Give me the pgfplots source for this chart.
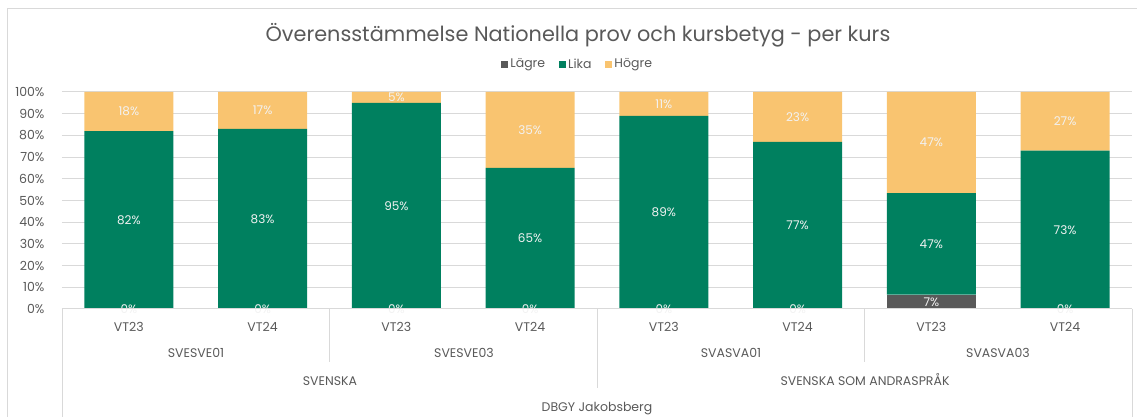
\documentclass[border=0pt]{standalone}
\usepackage{pgfplots}
\pgfplotsset{compat=1.18}
\usepackage{pgfplotstable}
\usepackage{fontspec}
\setmainfont{Poppins}
\definecolor{txt}{HTML}{595959}
\definecolor{lagre}{HTML}{595959}
\definecolor{lika}{HTML}{00805F}
\definecolor{hogre}{HTML}{F9C470}
\definecolor{gridc}{HTML}{D9D9D9}
\pgfplotstableread{
x lagre lika hogre
0 0 82 18
1 0 83 17
2 0 95 5
3 0 65 35
4 0 89 11
5 0 77 23
6 6.67 46.67 46.67
7 0 73 27
}\datatable
\begin{document}
\begin{tikzpicture}
\useasboundingbox (0pt,0pt) rectangle (1137pt,417pt);
\draw[gridc, line width=1pt] (7pt,0pt) -- (7pt,408pt) -- (1137pt,408pt);
\node[text=txt, font=\fontsize{20.8}{25}\selectfont] at (578pt,382pt) {Överensstämmelse Nationella prov och kursbetyg - per kurs};
\begin{axis}[
  at={(62pt,108pt)}, anchor=south west,
  scale only axis, width=1070pt, height=217pt,
  ybar stacked, bar width=89pt,
  xmin=-0.5, xmax=7.5, ymin=0, ymax=100,
  ytick={0,10,...,100},
  yticklabel={\pgfmathprintnumber[assume math mode=true]{\tick}\%},
  yticklabel style={font=\fontsize{12.5}{15}\selectfont, text=txt, xshift=-14pt},
  xtick={0,...,7}, xticklabels={VT23,VT24,VT23,VT24,VT23,VT24,VT23,VT24},
  xticklabel style={font=\fontsize{12.5}{15}\selectfont, text=txt, anchor=base, yshift=-23pt},
  major tick length=0pt,
  axis line style={draw=none},
  ymajorgrids, grid style={gridc, line width=1pt},
  legend style={at={(0.482,1.129)}, anchor=center, draw=none, fill=none, legend columns=3, font=\fontsize{12.5}{15}\selectfont, text=txt, /tikz/every even column/.append style={column sep=12pt}, inner sep=0pt},
  legend image code/.code={\fill[#1] (0pt,-3.5pt) rectangle (7pt,3.5pt);},
]
\addplot[fill=lagre, draw=none] table[x=x, y=lagre] {\datatable};
\addlegendentry{Lägre}
\addplot[fill=lika, draw=none] table[x=x, y=lika] {\datatable};
\addlegendentry{Lika}
\addplot[fill=hogre, draw=none] table[x=x, y=hogre] {\datatable};
\addlegendentry{Högre}
\end{axis}
\begin{axis}[
  at={(62pt,108pt)}, anchor=south west,
  scale only axis, width=1070pt, height=217pt,
  xmin=-0.5, xmax=7.5, ymin=0, ymax=100,
  hide axis, clip=false,
  nodes near coords, point meta=explicit symbolic,
  every node near coord/.append style={font=\fontsize{12}{14}\selectfont, text=white!95!black, anchor=center},
]
\addplot[only marks, mark=none] coordinates {
 (0,0) [0\%] (0,41) [82\%] (0,91) [18\%]
 (1,0) [0\%] (1,41.5) [83\%] (1,91.5) [17\%]
 (2,0) [0\%] (2,47.5) [95\%] (2,97.5) [5\%]
 (3,0) [0\%] (3,32.5) [65\%] (3,82.5) [35\%]
 (4,0) [0\%] (4,44.5) [89\%] (4,94.5) [11\%]
 (5,0) [0\%] (5,38.5) [77\%] (5,88.5) [23\%]
 (6,3.33) [7\%] (6,30) [47\%] (6,76.67) [47\%]
 (7,0) [0\%] (7,36.5) [73\%] (7,86.5) [27\%]
};
\end{axis}
\draw[gridc, line width=1pt] (62pt,108pt) -- (1132pt,108pt);
\draw[gridc, line width=1pt] (62pt,108pt) -- (62pt,0pt);
\draw[gridc, line width=1pt] (1132pt,108pt) -- (1132pt,0pt);
\draw[gridc, line width=1pt] (597pt,108pt) -- (597pt,29pt);
\draw[gridc, line width=1pt] (329.5pt,108pt) -- (329.5pt,55pt);
\draw[gridc, line width=1pt] (864.5pt,108pt) -- (864.5pt,55pt);
\begin{scope}[every node/.style={text=txt, font=\fontsize{12.5}{15}\selectfont, anchor=base}]
\node at (196pt,59pt) {SVESVE01};
\node at (464pt,59pt) {SVESVE03};
\node at (731pt,59pt) {SVASVA01};
\node at (998pt,59pt) {SVASVA03};
\node at (330pt,31pt) {SVENSKA};
\node at (865pt,31pt) {SVENSKA SOM ANDRASPRÅK};
\node at (597pt,5pt) {DBGY Jakobsberg};
\end{scope}
\end{tikzpicture}
\end{document}
